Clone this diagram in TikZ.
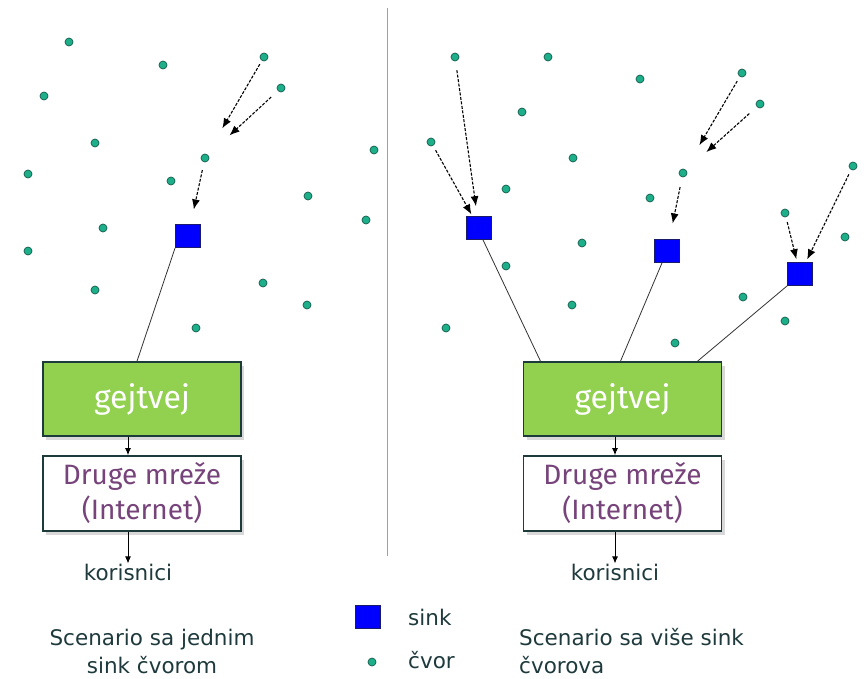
\documentclass[tikz,border=0pt]{standalone}
\usepackage{fontspec}
\setmainfont{DejaVu Sans}
\newfontfamily\boxfont{Fira Sans}
\usetikzlibrary{arrows.meta,shadows}
\definecolor{dotfill}{HTML}{1DAE8A}
\definecolor{dotline}{HTML}{145E4C}
\definecolor{sinkline}{HTML}{1A1A6A}
\definecolor{gwgreen}{HTML}{92D050}
\definecolor{boxline}{HTML}{1E3B3B}
\definecolor{netpurple}{HTML}{76437A}
\definecolor{labeltext}{HTML}{1F3A3D}
\definecolor{linkgray}{HTML}{333333}
\definecolor{divider}{HTML}{A0A0A0}
\tikzset{
 dotnode/.style={circle, minimum size=8pt, inner sep=0pt, fill=dotfill, draw=dotline, line width=0.7pt},
 sinknode/.style={rectangle, minimum width=25pt, minimum height=23pt, inner sep=0pt, fill=blue, draw=sinkline, line width=0.8pt},
 gwbox/.style={rectangle, minimum width=198pt, minimum height=74pt, inner sep=0pt, fill=gwgreen, draw=boxline, line width=1.6pt, text=white, font=\boxfont\fontsize{32}{36}\selectfont, drop shadow={shadow xshift=3pt, shadow yshift=-4pt, opacity=0.3}},
 netbox/.style={rectangle, minimum width=198pt, minimum height=75pt, inner sep=0pt, fill=white, draw=boxline, line width=1.6pt, text=netpurple, font=\boxfont\fontsize{28}{35}\selectfont, align=center, drop shadow={shadow xshift=3pt, shadow yshift=-4pt, opacity=0.3}},
 flow/.style={dash pattern=on 3pt off 1.5pt, line width=1.1pt, -{Latex[length=10pt,width=8pt]}},
 link/.style={draw=linkgray, line width=0.8pt},
 down/.style={line width=1pt, -{Latex[length=7pt,width=6pt]}},
 lbl/.style={text=labeltext, font=\fontsize{21.5}{28}\selectfont, inner sep=0pt},
}
\begin{document}
\begin{tikzpicture}[x=1pt,y=-1pt]
\useasboundingbox[fill=white] (0,0) rectangle (864,679);
% divider
\draw[divider, line width=1pt] (387,8) -- (387,556);

% ---------- left scenario ----------
\foreach \n/\x/\y in {l1/69/42, l2/44/96, l3/95/143, l4/28/174, l5/103/228, l6/28/251, l7/95/290,
  l8/163/65, l9/264/57, l10/281/88, l11/205/158, l12/171/181, l13/374/150, l14/308/196,
  l15/366/220, l16/263/283, l17/307/305, l18/196/328}
  \node[dotnode] (\n) at (\x,\y) {};
\node[sinknode] (s1) at (188,236) {};
\node[gwbox] (gw1) at (142,399) {gejtvej};
\node[netbox] (net1) at (142,493.5) {Druge mreže\\(Internet)};
\node[lbl] (k1) at (128,572) {korisnici};

\draw[flow, shorten <=4pt, shorten >=30pt] (l9) -- (l11);
\draw[flow, shorten <=9pt, shorten >=29pt] (l10) -- (l11);
\draw[flow, shorten <=8pt, shorten >=15pt] (l11) -- (s1);
\draw[link] (s1.south west) -- ([xshift=-5pt]gw1.north);
\draw[down] (gw1.south -| k1) -- (net1.north -| k1);
\draw[down] (net1.south -| k1) -- (k1.north);

% ---------- right scenario ----------
\foreach \n/\x/\y in {r1/455/57, r2/548/57, r3/522/112, r4/640/79, r5/742/73, r6/760/104,
  r7/431/142, r8/573/158, r9/683/173, r10/506/189, r11/650/198, r12/853/166, r13/785/213,
  r14/845/237, r15/582/243, r16/506/266, r17/743/297, r18/572/305, r19/446/328,
  r20/785/321, r21/675/343}
  \node[dotnode] (\n) at (\x,\y) {};
\node[sinknode] (s2) at (479,228) {};
\node[sinknode] (s3) at (667,251) {};
\node[sinknode] (s4) at (800,274) {};
\node[gwbox] (gw2) at (622.5,399) {gejtvej};
\node[netbox] (net2) at (622.5,493.5) {Druge mreže\\(Internet)};
\node[lbl] (k2) at (615,572) {korisnici};

\draw[flow, shorten <=9pt, shorten >=10pt] (r1) -- (s2);
\draw[flow, shorten <=5pt, shorten >=2pt] (r7) -- (s2);
\draw[flow, shorten <=5pt, shorten >=28pt] (r5) -- (r9);
\draw[flow, shorten <=10pt, shorten >=27pt] (r6) -- (r9);
\draw[flow, shorten <=10pt, shorten >=16pt] (r9) -- (s3);
\draw[flow, shorten <=5pt, shorten >=3pt] (r13) -- (s4);
\draw[flow, shorten <=5pt, shorten >=3pt] (r12) -- (s4);
\draw[link] ([xshift=4pt]s2.south) -- ([xshift=-82pt]gw2.north);
\draw[link] ([xshift=-5pt]s3.south) -- ([xshift=-2pt]gw2.north);
\draw[link] (s4.south west) -- ([xshift=75pt]gw2.north);
\draw[down] (gw2.south -| k2) -- (net2.north -| k2);
\draw[down] (net2.south -| k2) -- (k2.north);

% ---------- captions and legend ----------
\node[lbl, align=center] (capl) at (152,651) {Scenario sa jednim\\sink čvorom};
\node[lbl, align=left, anchor=west] (capr) at (519,651) {Scenario sa više sink\\čvorova};
\node[sinknode] (legs) at (368,617) {};
\node[lbl, anchor=west] (legst) at (408,617) {sink};
\node[dotnode] (legd) at (372,662) {};
\node[lbl, anchor=west] (legdt) at (408,660) {čvor};
\end{tikzpicture}
\end{document}
